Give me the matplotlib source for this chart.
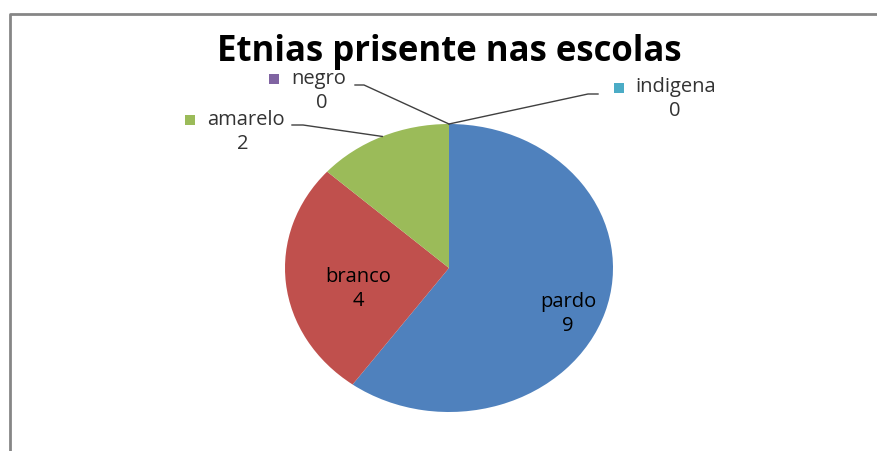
import numpy as np
import matplotlib
matplotlib.use('Agg')
import matplotlib.pyplot as plt

# dados do grafico
etnias = ['pardo', 'branco', 'amarelo', 'negro', 'indigena']
alunos = [9, 4, 2, 0, 0]
cores = ['#4F81BD', '#C0504D', '#9BBB59', '#8064A2', '#4BACC6']
titulo = 'Etnias prisente nas escolas'

W, H = 878, 451
plt.rcParams['font.family'] = ['Open Sans', 'DejaVu Sans']
fig = plt.figure(figsize=(W / 100, H / 100), dpi=100)

# overlay in pixel coords (y down)
ov = fig.add_axes([0, 0, 1, 1])
ov.set_xlim(0, W)
ov.set_ylim(H, 0)
ov.axis('off')
ov.patch.set_visible(False)

# pie (slightly stretched, like the original)
cx, cy, rx, ry = 449, 268, 164, 144
ax = fig.add_axes([(cx - rx) / W, (H - cy - ry) / H, 2 * rx / W, 2 * ry / H])
wedges, _ = ax.pie(alunos, colors=cores, startangle=90, counterclock=False,
                   radius=1, wedgeprops=dict(linewidth=0))
ax.set_aspect('auto')
ax.set_xlim(-1, 1)
ax.set_ylim(-1, 1)

total = float(sum(alunos))
ends = 90 - 360 * np.cumsum(alunos) / total
starts = np.concatenate([[90], ends[:-1]])
mids = (starts + ends) / 2


def borda(ang):
    a = np.radians(ang)
    return cx + rx * np.cos(a), cy - ry * np.sin(a)


# frame
ov.plot([10, 10, W], [H, 14, 14], color='#868686', lw=2, solid_capstyle='butt')

ov.text(449, 52, titulo, ha='center', va='center', fontsize=25,
        fontweight='bold', color='black')

fs = 14.5
# labels inside
inside = {'pardo': (568, 302), 'branco': (358, 277)}
for nome, (x, y) in inside.items():
    i = etnias.index(nome)
    ov.text(x, y, nome, ha='center', va='center', fontsize=fs, color='black')
    ov.text(x, y + 24, str(alunos[i]), ha='center', va='center', fontsize=fs,
            color='black')

# labels outside with legend keys and leader lines
fora = {
    'amarelo': dict(sq=(190, 120), txt=(207, 120), val=(243, 144),
                    linha=[(292, 125), (303, 125)]),
    'negro': dict(sq=(274, 79), txt=(291, 79), val=(322, 103),
                  linha=[(355, 85), (364, 85)]),
    'indigena': dict(sq=(619, 88), txt=(635, 87), val=(675, 111),
                     linha=[(598, 94), (588, 94)]),
}
for nome, d in fora.items():
    i = etnias.index(nome)
    ov.plot(*d['sq'], marker='s', markersize=7.5, color=cores[i], mew=0)
    ov.text(d['txt'][0], d['txt'][1], nome, ha='left', va='center',
            fontsize=fs, color='#333333')
    ov.text(d['val'][0], d['val'][1], str(alunos[i]), ha='center',
            va='center', fontsize=fs, color='#333333')
    px, py = borda(mids[i])
    xs = [p[0] for p in d['linha']] + [px]
    ys = [p[1] for p in d['linha']] + [py]
    ov.plot(xs, ys, color='#404040', lw=1)

ov.set_zorder(2)
fig.savefig('out.png', dpi=100)
